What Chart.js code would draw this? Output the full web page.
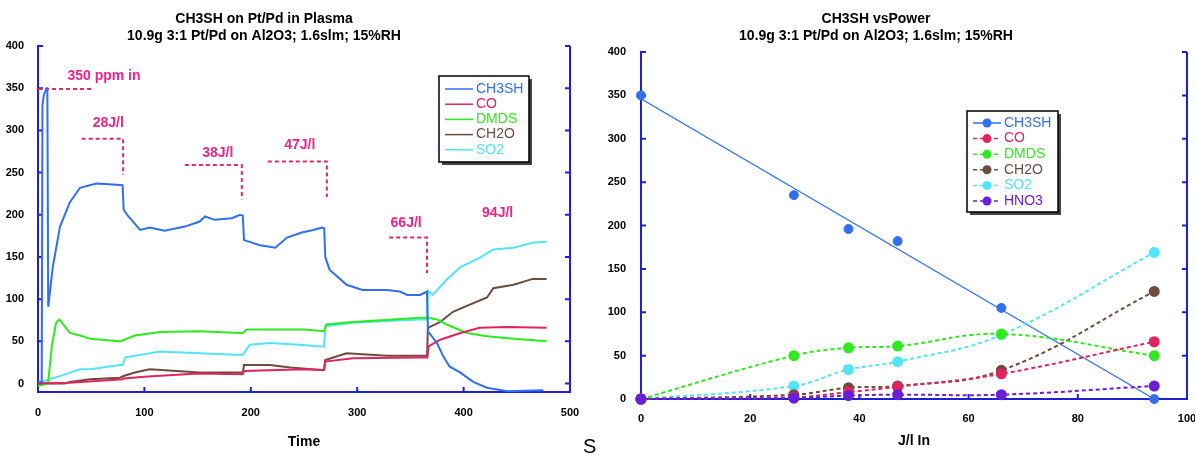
<!DOCTYPE html>
<html>
<head>
<meta charset="utf-8">
<script src="https://cdn.jsdelivr.net/npm/chart.js@4.4.1/dist/chart.umd.min.js"></script>
<style>
body { margin: 0; background: #fff; }
#wrap { position: relative; width: 1195px; height: 455px; overflow: hidden; }
.pane { position: absolute; top: 0; height: 455px; }
#left { left: 0; width: 600px; }
#right { left: 600px; width: 595px; }
#stray { position: absolute; left: 583px; top: 435px; font: 20px 'Liberation Sans', Arial, sans-serif; color: #000; }
</style>
</head>
<body>
<div id="wrap">
  <div class="pane" id="left"><canvas id="timeChart" width="600" height="455"></canvas></div>
  <div class="pane" id="right"><canvas id="powerChart" width="595" height="455"></canvas></div>
  <div id="stray">S</div>
</div>
<script>
// --- left chart: concentrations vs time ---
const ch3shT = [0, 3.5, 4.2, 5.5, 8, 8.8, 9.6, 14, 20.7, 30, 39.5, 55, 70, 79.5, 80.5, 85, 96, 105, 119, 138, 152, 157, 166, 182, 190, 192.5, 193.6, 208.6, 223, 234, 248, 258.7, 267, 269, 270, 274, 290, 305, 328, 340, 347, 359, 365.6, 366.5, 375, 381, 387, 397, 409, 422, 441, 475];
const ch3shV = [2, 2, 330, 342, 350, 350, 91, 139, 186, 215, 232, 237, 236, 235, 206, 198, 182, 185, 181, 186, 192, 198, 194, 196, 200, 199, 170, 164, 161, 173, 179, 182, 185, 184, 150, 135, 117, 111, 111, 109, 105, 105, 109, 62, 48, 32, 20, 13, 2, -5, -9, -8];
const coT = [0, 30, 79.5, 80.5, 100, 150, 192.5, 193.6, 250, 268.8, 270, 296, 359, 366, 367, 378, 397, 415, 440, 478];
const coV = [0, 1, 5, 6, 8, 12, 11, 15, 17, 16, 26, 30, 31, 31, 44, 52, 60, 66, 67, 66];
const dmdsT = [0, 9.4, 13, 17, 20, 30, 42, 49, 68, 77, 91, 115, 152, 190, 192.5, 196, 250, 268.8, 271, 296, 359, 366, 375, 384, 403, 422, 447, 478];
const dmdsV = [-3, 0, 45, 72, 76, 60, 56, 53, 51, 50, 57, 61, 62, 60, 60, 64, 64, 62, 70, 73, 78, 78, 76, 70, 60, 56, 53, 50];
const ch2oT = [0, 25, 30, 49, 77, 80.5, 91, 105, 152, 185, 192.5, 193.6, 218, 237, 246, 265, 268.8, 270, 290, 328, 362, 365.6, 366.5, 378, 390, 403, 422, 428, 447, 465, 478];
const ch2oV = [0, 0, 2, 5, 7, 9, 13, 17, 13, 13, 13, 22, 22, 19, 18, 16, 16, 28, 36, 33, 33, 33, 66, 73, 85, 92, 102, 113, 117, 124, 124];
const so2T = [0, 10, 23.5, 30, 39.5, 49, 77, 79.5, 82, 96, 115, 152, 185, 192.5, 199, 218, 246, 265, 268.8, 270, 296, 328, 359, 365.6, 366.5, 371, 384, 397, 415, 428, 447, 465, 478];
const so2V = [0, 5, 10, 13, 17, 17, 22, 22, 31, 34, 38, 36, 34, 34, 46, 48, 46, 44, 44, 68, 72, 74, 76, 76, 110, 105, 123, 138, 149, 159, 161, 167, 168];

// step annotations (pink text + dashed brackets)
const stepLabels = ['350 ppm in', '28J/l', '38J/l', '47J/l', '66J/l', '94J/l'];
const stepLabelT = [62, 66, 169, 246, 346, 432];
const stepLabelV = [364, 309, 273, 283, 190, 202];
const bracketT = [[0, 52], [41, 80, 80], [138, 191.5, 191.5], [216, 271.5, 271.5], [330, 365.6, 365.6]];
const bracketV = [[349, 349], [290, 290, 247], [259, 259, 218], [263, 263, 221], [173, 173, 131]];

// --- right chart: vs J/l ---
const powerJ = [0, 28, 38, 47, 66, 94];
const pCH3SH = [350, 235, 196, 182, 105, 0];
const pCO = [0, 2, 8, 14, 29, 66];
const pDMDS = [0, 50, 59, 61, 75, 50];
const pCH2O = [0, 5, 13, 15, 33, 124];
const pSO2 = [0, 15, 34, 43, 74, 169];
const pHNO3 = [0, 1, 4, 5, 5, 15];
const fitJ = [0, 94];
const fitV = [346, 0];

const FONT = "'Liberation Sans', Arial, sans-serif";
const AXIS_BLUE = '#1f1fd4';
const PINK_TXT = '#ee2585';
const PINK_LINE = '#e4285f';
const C = { ch3sh: '#2f6ff0', co: '#e0245e', dmds: '#2eea1e', ch2o: '#6e4b3f', so2: '#52e4f7', hno3: '#6a1ed8' };

const pts = (T, V) => T.map((t, i) => ({ x: t, y: V[i] }));

// two-line bold title, centred where the original sits
const twoLineTitle = {
    id: 'twoLineTitle',
    afterDraw(chart, args, opts) {
        const ctx = chart.ctx;
        ctx.save();
        ctx.font = 'bold 14px ' + FONT;
        ctx.fillStyle = '#000';
        ctx.textAlign = 'center';
        ctx.textBaseline = 'middle';
        opts.lines.forEach((l, i) => ctx.fillText(l, opts.x, opts.y + i * 17));
        ctx.restore();
    }
};

// inward tick marks + right axis line (under the data)
const innerTicks = {
    id: 'innerTicks',
    beforeDatasetsDraw(chart) {
        const { ctx, chartArea: a, scales: { x, y } } = chart;
        ctx.save();
        ctx.strokeStyle = AXIS_BLUE;
        ctx.lineWidth = 2;
        ctx.beginPath();
        ctx.moveTo(a.right, a.top);
        ctx.lineTo(a.right, a.bottom);
        y.ticks.forEach(t => {
            const py = y.getPixelForValue(t.value);
            ctx.moveTo(a.left, py); ctx.lineTo(a.left + 5, py);
            ctx.moveTo(a.right, py); ctx.lineTo(a.right - 5, py);
        });
        x.ticks.forEach(t => {
            const px = x.getPixelForValue(t.value);
            ctx.moveTo(px, a.bottom); ctx.lineTo(px, a.bottom - 5);
        });
        ctx.stroke();
        ctx.restore();
    }
};

// boxed legend inside the plot, with drop shadow
const boxLegend = {
    id: 'boxLegend',
    afterDraw(chart, args, o) {
        const ctx = chart.ctx;
        const items = chart.data.datasets.filter(d => d.label);
        ctx.save();
        ctx.fillStyle = '#444';
        ctx.fillRect(o.left + 3, o.top + 3, o.width, o.height);
        ctx.fillStyle = '#fff';
        ctx.fillRect(o.left, o.top, o.width, o.height);
        ctx.strokeStyle = '#000';
        ctx.lineWidth = 1.5;
        ctx.strokeRect(o.left, o.top, o.width, o.height);
        ctx.font = '14px ' + FONT;
        ctx.textBaseline = 'middle';
        ctx.textAlign = 'left';
        items.forEach((d, i) => {
            const yy = o.top + o.first + i * o.rowH;
            ctx.strokeStyle = d.borderColor;
            ctx.lineWidth = 1.5;
            ctx.setLineDash(d.borderDash || []);
            ctx.beginPath();
            ctx.moveTo(o.left + 6, yy);
            ctx.lineTo(o.left + 34, yy);
            ctx.stroke();
            ctx.setLineDash([]);
            if (o.dots) {
                ctx.fillStyle = d.pointBackgroundColor;
                ctx.beginPath();
                ctx.arc(o.left + 20, yy, 4.5, 0, Math.PI * 2);
                ctx.fill();
            }
            ctx.fillStyle = d.borderColor;
            ctx.fillText(d.label, o.left + 37, yy);
        });
        ctx.restore();
    }
};

const stepText = {
    id: 'stepText',
    afterDatasetsDraw(chart) {
        const { ctx, scales: { x, y } } = chart;
        ctx.save();
        ctx.font = 'bold 14px ' + FONT;
        ctx.fillStyle = PINK_TXT;
        ctx.textAlign = 'center';
        ctx.textBaseline = 'middle';
        stepLabels.forEach((s, i) => ctx.fillText(s, x.getPixelForValue(stepLabelT[i]), y.getPixelForValue(stepLabelV[i])));
        ctx.restore();
    }
};

const tickFont = { family: FONT, size: 11, weight: 'bold' };
const axisTitleFont = { family: FONT, size: 14, weight: 'bold' };

const makeScales = (xo, yo) => ({
    x: {
        type: 'linear', min: xo.min, max: xo.max,
        ticks: { stepSize: xo.step, padding: xo.pad, color: '#000', font: tickFont },
        grid: { display: false, drawTicks: false },
        border: { color: AXIS_BLUE, width: 2 },
        title: { display: true, text: xo.title, color: '#000', font: axisTitleFont, padding: { top: 0, bottom: xo.titlePad } },
        // let the last tick label run past the edge, as in the original
        afterFit: s => { s.height = xo.height; s.paddingRight = 0; s.paddingLeft = 0; }
    },
    y: {
        min: yo.min, max: 400,
        ticks: { stepSize: 50, includeBounds: false, padding: yo.pad, color: '#000', font: tickFont },
        grid: { display: false, drawTicks: false },
        border: { color: AXIS_BLUE, width: 2 },
        afterFit: s => { s.width = yo.width; }
    }
});

Chart.defaults.font.family = FONT;

// ---- left chart ----
const lineSet = (label, T, V, color) => ({
    label: label, data: pts(T, V), borderColor: color, backgroundColor: color,
    borderWidth: 2, pointRadius: 0, tension: 0, fill: false
});
const bracketSets = bracketT.map((T, i) => ({
    data: pts(T, bracketV[i]), borderColor: PINK_LINE, borderWidth: 2,
    borderDash: [4, 3], pointRadius: 0, fill: false
}));

new Chart(document.getElementById('timeChart'), {
    type: 'line',
    data: {
        datasets: [
            lineSet('CH3SH', ch3shT, ch3shV, C.ch3sh),
            lineSet('CO', coT, coV, C.co),
            lineSet('DMDS', dmdsT, dmdsV, C.dmds),
            lineSet('CH2O', ch2oT, ch2oV, C.ch2o),
            lineSet('SO2', so2T, so2V, C.so2)
        ].concat(bracketSets)
    },
    options: {
        responsive: false, animation: false, events: [],
        layout: { padding: { top: 46, right: 30, left: 0, bottom: 0 } },
        scales: makeScales(
            { min: 0, max: 500, step: 100, pad: 14, title: 'Time', titlePad: 4, height: 63 },
            { min: -10, pad: 14, width: 38 }
        ),
        plugins: {
            legend: { display: false },
            tooltip: { enabled: false },
            twoLineTitle: { x: 264, y: 19, lines: ['CH3SH on Pt/Pd in Plasma', '10.9g 3:1 Pt/Pd on Al2O3; 1.6slm; 15%RH'] },
            boxLegend: { left: 439, top: 76, width: 90, height: 86, first: 13, rowH: 15.2, dots: false }
        }
    },
    plugins: [innerTicks, stepText, boxLegend, twoLineTitle]
});

// ---- right chart ----
const dashSet = (label, V, color, order) => ({
    label: label, data: pts(powerJ, V), borderColor: color, backgroundColor: color,
    pointBackgroundColor: color, pointBorderColor: color, pointRadius: 4.5,
    borderWidth: 2, borderDash: [4, 3], tension: 0.4, fill: false, order: order, clip: false
});

new Chart(document.getElementById('powerChart'), {
    type: 'line',
    data: {
        datasets: [
            {
                label: 'CH3SH', data: pts(powerJ, pCH3SH), showLine: false,
                borderColor: C.ch3sh, backgroundColor: C.ch3sh,
                pointBackgroundColor: C.ch3sh, pointBorderColor: C.ch3sh, pointRadius: 4.5, order: 1, clip: false
            },
            dashSet('CO', pCO, C.co, 1),
            dashSet('DMDS', pDMDS, C.dmds, 1),
            dashSet('CH2O', pCH2O, C.ch2o, 1),
            dashSet('SO2', pSO2, C.so2, 1),
            dashSet('HNO3', pHNO3, C.hno3, 0),
            {
                data: pts(fitJ, fitV), borderColor: C.ch3sh, borderWidth: 1.2,
                pointRadius: 0, fill: false, order: 2
            }
        ]
    },
    options: {
        responsive: false, animation: false, events: [],
        layout: { padding: { top: 52, right: 8, left: 0, bottom: 0 } },
        scales: makeScales(
            { min: 0, max: 100, step: 20, pad: 13, title: 'J/l In', titlePad: 5, height: 56 },
            { min: 0, pad: 15, width: 41 }
        ),
        plugins: {
            legend: { display: false },
            tooltip: { enabled: false },
            twoLineTitle: { x: 276, y: 19, lines: ['CH3SH vsPower', '10.9g 3:1 Pt/Pd on Al2O3; 1.6slm; 15%RH'] },
            boxLegend: { left: 367, top: 111, width: 91, height: 101, first: 12, rowH: 15.6, dots: true }
        }
    },
    plugins: [innerTicks, boxLegend, twoLineTitle]
});
</script>
</body>
</html>
